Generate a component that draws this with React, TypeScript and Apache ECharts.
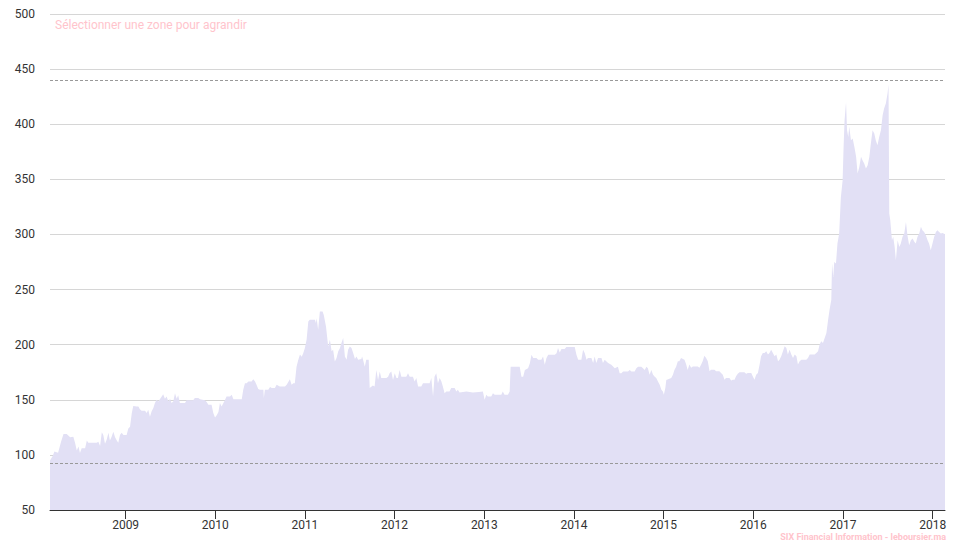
import React, { useEffect, useRef } from "react";
import * as echarts from "echarts";

type Pt = [string, number];

const s2008: Pt[] = [
  ["2008-02-28", 95], ["2008-03-10", 99], ["2008-03-17", 103], ["2008-04-01", 102], ["2008-04-13", 112],
  ["2008-04-23", 119], ["2008-05-06", 119], ["2008-05-20", 116], ["2008-06-02", 116.5], ["2008-06-09", 111],
  ["2008-06-16", 104], ["2008-06-23", 107.7], ["2008-06-29", 101.7], ["2008-07-06", 106], ["2008-07-20", 106],
  ["2008-07-27", 113], ["2008-08-02", 111], ["2008-08-20", 111], ["2008-09-05", 111], ["2008-09-12", 112],
  ["2008-09-19", 108], ["2008-09-26", 120.5], ["2008-10-02", 118], ["2008-10-09", 110], ["2008-10-16", 114],
  ["2008-10-23", 120], ["2008-10-29", 113], ["2008-11-05", 116.5], ["2008-11-12", 121], ["2008-11-19", 116],
  ["2008-11-26", 113], ["2008-12-02", 111], ["2008-12-09", 118], ["2008-12-16", 120], ["2008-12-23", 118],
];

const s2009: Pt[] = [
  ["2009-01-05", 118], ["2009-01-12", 124], ["2009-01-19", 125.6], ["2009-01-26", 137.7], ["2009-02-01", 144.4],
  ["2009-02-15", 144], ["2009-02-22", 144], ["2009-02-28", 141.4], ["2009-03-07", 140], ["2009-03-21", 140],
  ["2009-03-28", 138], ["2009-04-03", 141], ["2009-04-10", 134.5], ["2009-04-17", 139.5], ["2009-04-24", 142.5],
  ["2009-04-30", 146.8], ["2009-05-07", 150], ["2009-05-14", 148.5], ["2009-05-28", 153], ["2009-06-03", 155],
  ["2009-06-10", 151], ["2009-06-17", 153], ["2009-06-24", 148.5], ["2009-07-01", 151], ["2009-07-07", 147],
  ["2009-07-14", 148.5], ["2009-07-21", 156], ["2009-07-28", 151], ["2009-08-03", 154], ["2009-08-10", 147],
  ["2009-08-31", 147], ["2009-09-06", 149.5], ["2009-10-03", 149.5], ["2009-10-10", 151.5], ["2009-10-24", 151.5],
  ["2009-10-31", 150.5], ["2009-11-20", 149.5], ["2009-11-27", 148], ["2009-12-04", 145.5], ["2009-12-17", 145.5],
  ["2009-12-24", 138], ["2009-12-31", 134],
];

const s2010: Pt[] = [
  ["2010-01-07", 136], ["2010-01-14", 139], ["2010-01-20", 147], ["2010-01-27", 144], ["2010-02-10", 150],
  ["2010-02-16", 153], ["2010-03-02", 153], ["2010-03-09", 154.5], ["2010-03-16", 150.5], ["2010-04-19", 150.5],
  ["2010-04-25", 159], ["2010-05-02", 165], ["2010-05-09", 165], ["2010-05-16", 166.6], ["2010-05-29", 166.6],
  ["2010-06-05", 168.7], ["2010-06-12", 166.6], ["2010-06-18", 163.6], ["2010-06-25", 159.7], ["2010-07-02", 159],
  ["2010-07-16", 159], ["2010-07-18", 151.5], ["2010-07-22", 159], ["2010-08-05", 159], ["2010-08-12", 161.5],
  ["2010-08-19", 160.6], ["2010-09-01", 160.6], ["2010-09-08", 163.6], ["2010-09-21", 162], ["2010-10-12", 162],
  ["2010-10-19", 163.6], ["2010-11-01", 168.7], ["2010-11-08", 163.6], ["2010-11-15", 165], ["2010-11-21", 165],
  ["2010-11-28", 180], ["2010-12-05", 186], ["2010-12-12", 191], ["2010-12-19", 189], ["2010-12-25", 192],
];

const s2011: Pt[] = [
  ["2011-01-01", 197], ["2011-01-08", 204.4], ["2011-01-15", 221], ["2011-01-21", 222.6], ["2011-02-11", 222.6],
  ["2011-02-15", 219.6], ["2011-02-18", 224], ["2011-02-24", 213.5], ["2011-03-03", 230], ["2011-03-14", 230],
  ["2011-03-19", 227], ["2011-03-28", 216.5], ["2011-04-06", 198.4], ["2011-04-13", 204.4], ["2011-04-20", 194],
  ["2011-04-26", 195.4], ["2011-05-03", 184.8], ["2011-05-10", 187.8], ["2011-05-17", 194], ["2011-05-24", 197],
  ["2011-05-30", 201.4], ["2011-06-06", 206], ["2011-06-13", 189.3], ["2011-06-20", 186.3], ["2011-06-26", 195.4],
  ["2011-07-03", 198.4], ["2011-07-10", 197], ["2011-07-17", 192.3], ["2011-07-24", 187], ["2011-07-30", 189.3],
  ["2011-08-06", 186.3], ["2011-08-19", 187], ["2011-08-22", 189.3], ["2011-08-26", 186.3], ["2011-09-02", 180],
  ["2011-09-08", 186.3], ["2011-09-18", 186.3], ["2011-09-22", 160.6], ["2011-10-05", 163], ["2011-10-12", 162],
  ["2011-10-19", 177], ["2011-10-26", 168], ["2011-11-02", 175.7], ["2011-11-08", 169.7], ["2011-11-29", 169.7],
  ["2011-12-06", 171], ["2011-12-12", 174], ["2011-12-19", 175.7], ["2011-12-26", 168],
];

const s2012: Pt[] = [
  ["2012-01-02", 174], ["2012-01-09", 169.7], ["2012-01-15", 169.7], ["2012-01-22", 177], ["2012-01-29", 171],
  ["2012-02-18", 171], ["2012-02-25", 174], ["2012-03-03", 171], ["2012-03-16", 171], ["2012-03-23", 166.6],
  ["2012-03-30", 169.7], ["2012-04-06", 162], ["2012-04-19", 162], ["2012-04-26", 165], ["2012-05-23", 165],
  ["2012-05-30", 169.7], ["2012-06-06", 153], ["2012-06-12", 171], ["2012-06-19", 174], ["2012-06-26", 165],
  ["2012-07-03", 169.7], ["2012-07-10", 166.6], ["2012-07-16", 162], ["2012-07-23", 156], ["2012-07-30", 157.6],
  ["2012-08-12", 157.6], ["2012-08-19", 160.6], ["2012-09-02", 160.6], ["2012-09-09", 157.6], ["2012-09-15", 159],
  ["2012-09-22", 156.6], ["2012-10-20", 157.5], ["2012-11-15", 156.6], ["2012-12-10", 157], ["2012-12-26", 157.6],
];

const s2013: Pt[] = [
  ["2013-01-02", 150], ["2013-01-09", 154.5], ["2013-01-15", 153], ["2013-01-29", 153], ["2013-02-05", 156],
  ["2013-02-12", 154.5], ["2013-03-11", 154.5], ["2013-03-17", 157.6], ["2013-03-24", 154.5], ["2013-04-07", 154.5],
  ["2013-04-14", 157.6], ["2013-04-18", 180], ["2013-05-11", 180], ["2013-05-25", 180], ["2013-06-01", 171],
  ["2013-06-08", 171], ["2013-06-15", 177], ["2013-06-28", 178.7], ["2013-07-05", 183], ["2013-07-12", 190.8],
  ["2013-07-19", 187.8], ["2013-08-01", 187.8], ["2013-08-08", 186.3], ["2013-08-21", 186.3], ["2013-08-28", 189.3],
  ["2013-09-04", 181.7], ["2013-09-11", 187.8], ["2013-09-18", 190.8], ["2013-10-15", 190.8], ["2013-10-22", 192.3],
  ["2013-10-28", 197], ["2013-11-04", 193], ["2013-11-11", 196], ["2013-11-24", 196], ["2013-12-01", 197.8],
];

const s2014: Pt[] = [
  ["2014-01-04", 197.8], ["2014-01-11", 190.8], ["2014-01-18", 186.3], ["2014-01-31", 186.3], ["2014-02-07", 195.4],
  ["2014-02-14", 192.3], ["2014-02-21", 186.3], ["2014-02-27", 187.8], ["2014-03-13", 187.8], ["2014-03-20", 183.3],
  ["2014-03-26", 189.3], ["2014-04-02", 183.3], ["2014-04-09", 187.8], ["2014-04-23", 187.8], ["2014-04-29", 183.3],
  ["2014-05-06", 186.3], ["2014-05-20", 183.3], ["2014-06-02", 181.7], ["2014-06-16", 178.7], ["2014-06-29", 180],
  ["2014-07-06", 174], ["2014-07-13", 174], ["2014-07-20", 175.7], ["2014-08-09", 175.7], ["2014-08-16", 177],
  ["2014-08-23", 175.7], ["2014-09-05", 175.7], ["2014-09-12", 178.7], ["2014-09-19", 180], ["2014-10-02", 180],
  ["2014-10-09", 178.7], ["2014-10-16", 177], ["2014-10-23", 180], ["2014-10-29", 178.7], ["2014-11-05", 172.7],
  ["2014-11-12", 177], ["2014-11-19", 172.7], ["2014-11-26", 171], ["2014-12-02", 169.7], ["2014-12-09", 166.6],
  ["2014-12-16", 163.6], ["2014-12-23", 159], ["2014-12-29", 157.6],
];

const s2015: Pt[] = [
  ["2015-01-02", 154.5], ["2015-01-08", 160.6], ["2015-01-12", 168], ["2015-02-01", 169.7], ["2015-02-08", 172.7],
  ["2015-02-14", 177], ["2015-02-21", 180], ["2015-02-28", 185], ["2015-03-06", 185], ["2015-03-13", 188],
  ["2015-03-27", 186.4], ["2015-04-03", 182], ["2015-04-09", 177], ["2015-04-16", 182], ["2015-04-23", 179],
  ["2015-04-30", 180.3], ["2015-05-20", 180.3], ["2015-05-27", 179], ["2015-06-03", 182], ["2015-06-09", 185],
  ["2015-06-16", 190], ["2015-06-23", 188], ["2015-06-30", 185], ["2015-07-07", 175.8], ["2015-07-13", 177.3],
  ["2015-07-27", 177.3], ["2015-08-03", 175.8], ["2015-08-16", 175.8], ["2015-08-23", 174.3], ["2015-08-30", 172.8],
  ["2015-09-06", 168.2], ["2015-09-12", 169.8], ["2015-09-26", 169.8], ["2015-10-03", 167.6], ["2015-10-10", 168.2],
  ["2015-10-17", 168.2], ["2015-10-23", 171.3], ["2015-10-30", 173.7], ["2015-11-06", 175], ["2015-11-26", 175],
  ["2015-12-03", 173.7], ["2015-12-10", 174.3], ["2015-12-24", 174.3], ["2015-12-30", 171.3],
];

const s2016: Pt[] = [
  ["2016-01-06", 168.2], ["2016-01-13", 172.8], ["2016-01-20", 174.3], ["2016-01-27", 181.9], ["2016-02-02", 189.4],
  ["2016-02-09", 192.4], ["2016-02-16", 192.4], ["2016-02-23", 194], ["2016-03-01", 191], ["2016-03-07", 192.4],
  ["2016-03-14", 195.5], ["2016-03-21", 192.4], ["2016-03-28", 189.4], ["2016-04-04", 191], ["2016-04-11", 185],
  ["2016-04-17", 186.4], ["2016-04-24", 189.4], ["2016-05-01", 194], ["2016-05-08", 198.5], ["2016-05-15", 197],
  ["2016-05-21", 191], ["2016-05-28", 195.5], ["2016-06-04", 191], ["2016-06-11", 188], ["2016-06-18", 191],
  ["2016-06-25", 189.4], ["2016-07-01", 181.9], ["2016-07-08", 185], ["2016-07-15", 186.4], ["2016-08-04", 186.4],
  ["2016-08-11", 188], ["2016-08-18", 191], ["2016-09-07", 191], ["2016-09-14", 192.4], ["2016-09-21", 194],
  ["2016-09-27", 200], ["2016-10-04", 203], ["2016-10-11", 201.5], ["2016-10-18", 206], ["2016-10-25", 210.6],
  ["2016-11-01", 222.7], ["2016-11-07", 231.8], ["2016-11-14", 240.8], ["2016-11-17", 273.6], ["2016-11-22", 261.5],
  ["2016-11-26", 275], ["2016-12-03", 273.6], ["2016-12-09", 291.7], ["2016-12-16", 300.8], ["2016-12-23", 334],
  ["2016-12-30", 349],
];

const s2017: Pt[] = [
  ["2017-01-03", 379.4], ["2017-01-07", 403.6], ["2017-01-13", 420], ["2017-01-17", 394.6], ["2017-01-22", 388.5],
  ["2017-01-26", 397.6], ["2017-02-02", 385.5], ["2017-02-09", 387], ["2017-02-16", 379.4], ["2017-02-23", 370.4],
  ["2017-03-01", 355.2], ["2017-03-08", 361.3], ["2017-03-15", 370.4], ["2017-03-21", 367.3], ["2017-03-28", 364.3],
  ["2017-04-04", 359.8], ["2017-04-11", 362.8], ["2017-04-18", 370.4], ["2017-04-24", 382.5], ["2017-05-01", 394.6],
  ["2017-05-08", 391.5], ["2017-05-14", 385.5], ["2017-05-21", 381], ["2017-05-28", 388.5], ["2017-06-04", 394.6],
  ["2017-06-11", 408.2], ["2017-06-17", 414.2], ["2017-06-24", 418.7], ["2017-07-01", 427.8], ["2017-07-05", 436],
  ["2017-07-08", 319], ["2017-07-12", 313], ["2017-07-19", 294.8], ["2017-07-24", 297.8], ["2017-07-30", 288.7],
  ["2017-08-04", 276.6], ["2017-08-11", 294.8], ["2017-08-18", 288.7], ["2017-08-24", 291.7], ["2017-08-31", 297.8],
  ["2017-09-07", 300.8], ["2017-09-14", 311.4], ["2017-09-20", 299.3], ["2017-09-27", 290.2], ["2017-10-04", 294.8],
  ["2017-10-11", 296.3], ["2017-10-18", 293.3], ["2017-10-24", 291.7], ["2017-10-31", 297.8], ["2017-11-07", 300.8],
  ["2017-11-14", 306.9], ["2017-11-20", 303.8], ["2017-11-27", 302.3], ["2017-12-04", 299.3], ["2017-12-11", 294.8],
  ["2017-12-17", 291.7], ["2017-12-24", 285.7], ["2017-12-31", 291.7],
];

const s2018: Pt[] = [
  ["2018-01-07", 297.8], ["2018-01-14", 302.3], ["2018-01-20", 303.8], ["2018-01-27", 302.3], ["2018-02-03", 300.8],
  ["2018-02-10", 301.4], ["2018-02-20", 300.2],
];

const yearTicks: string[] = [
  "2009-01-01", "2010-01-01", "2011-01-01", "2012-01-01", "2013-01-01",
  "2014-01-01", "2015-01-01", "2016-01-01", "2017-01-01", "2018-01-01",
];

const refLines: number[] = [440, 92.5];
const xStart = "2008-02-28";
const xEnd = "2018-02-20";
const hintText = "Sélectionner une zone pour agrandir";
const creditText = "SIX Financial Information - leboursier.ma";

const toTime = (s: string) => {
  const [y, m, d] = s.split("-").map(Number);
  return Date.UTC(y, m - 1, d);
};

export default function App() {
  const ref = useRef<HTMLDivElement>(null);

  useEffect(() => {
    document.body.style.margin = "0";
    if (!ref.current) return;
    const chart = echarts.init(ref.current, undefined, { renderer: "svg" });
    const data = [...s2008, ...s2009, ...s2010, ...s2011, ...s2012, ...s2013, ...s2014, ...s2015, ...s2016, ...s2017, ...s2018]
      .map(([d, v]) => [toTime(d), v]);
    const ticks = yearTicks.map(toTime);

    chart.setOption({
      animation: false,
      backgroundColor: "#ffffff",
      textStyle: { fontFamily: "Roboto" },
      grid: { left: 50, right: 25, top: 14, bottom: 37 },
      xAxis: {
        type: "value",
        z: 10,
        min: toTime(xStart),
        max: toTime(xEnd),
        axisLine: { show: true, onZero: false, lineStyle: { color: "#333333", width: 1 } },
        axisTick: { show: true, inside: false, length: 9, lineStyle: { color: "#333333", width: 1 }, customValues: ticks },
        axisLabel: {
          customValues: ticks,
          formatter: (v: number) => String(new Date(v).getUTCFullYear()),
          color: "#333333",
          fontSize: 12,
          margin: 9,
          fontFamily: "Roboto",
        },
        splitLine: { show: false },
      },
      yAxis: {
        type: "value",
        min: 50,
        max: 500,
        interval: 50,
        axisLine: { show: false },
        axisTick: { show: false },
        axisLabel: { color: "#333333", fontSize: 12, margin: 15, fontFamily: "Roboto" },
        splitLine: { lineStyle: { color: "#d6d6d6", width: 1 } },
      },
      series: [
        {
          type: "line",
          data,
          showSymbol: false,
          symbol: "none",
          lineStyle: { width: 0, color: "#e2e0f5" },
          itemStyle: { color: "#e2e0f5" },
          areaStyle: { color: "#e2e0f5", opacity: 1 },
          silent: true,
          markLine: {
            silent: true,
            symbol: "none",
            label: { show: false },
            lineStyle: { color: "#999999", type: [3, 2], width: 1 },
            data: refLines.map((y) => ({ yAxis: y })),
          },
        },
      ],
      graphic: [
        {
          type: "text",
          left: 55,
          top: 19,
          style: { text: hintText, fill: "#ffc4cc", fontSize: 12, fontFamily: "Roboto" },
        },
        {
          type: "text",
          right: 24,
          top: 532,
          style: { text: creditText, fill: "#ffc4cc", fontSize: 9, fontWeight: "bold", fontFamily: "Roboto" },
        },
      ],
    });
    return () => chart.dispose();
  }, []);

  return (
    <div
      ref={ref}
      style={{ position: "absolute", left: 0, top: 0, width: 970, height: 547 }}
    />
  );
}
